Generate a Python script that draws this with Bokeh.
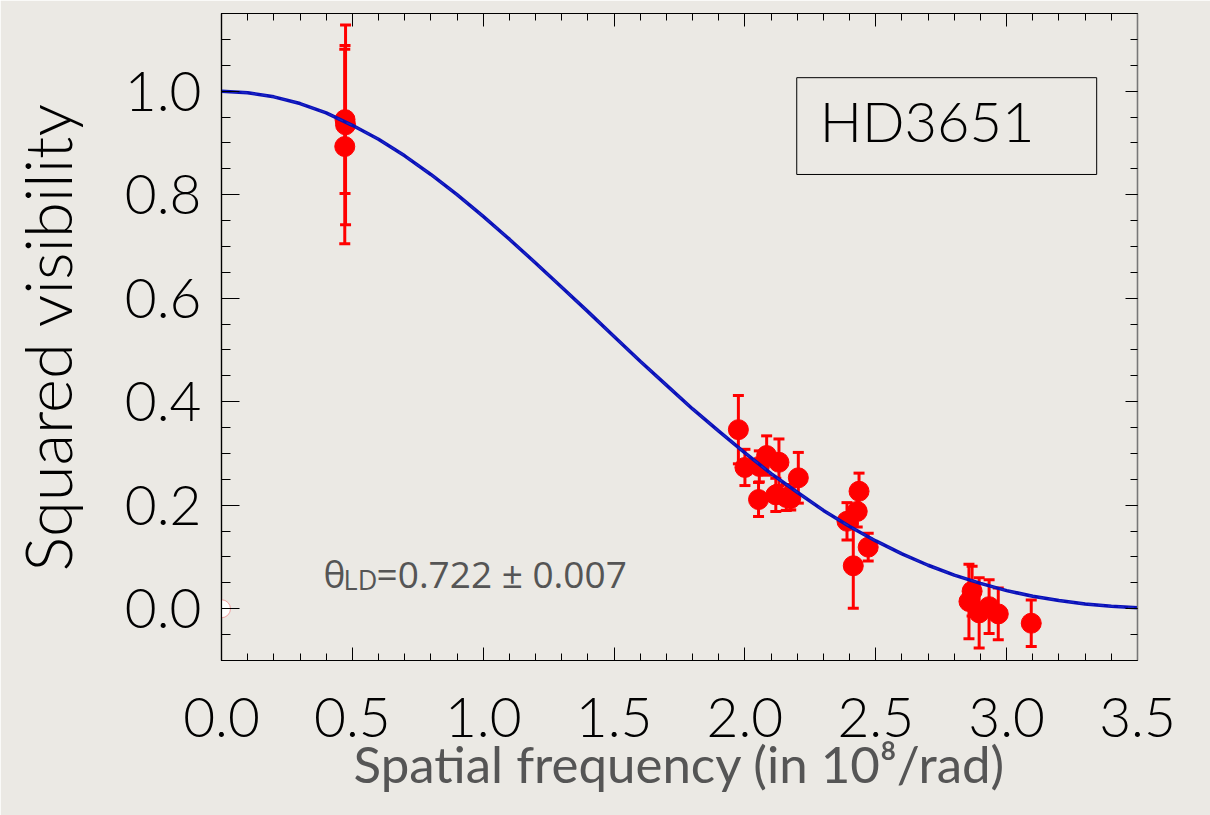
from bokeh.plotting import figure
from bokeh.models import (ColumnDataSource, Whisker, TeeHead, FixedTicker, PrintfTickFormatter,
                          LinearAxis, Label, BoxAnnotation, Range1d, CustomJSTickFormatter)
from bokeh.embed import file_html
from bokeh.resources import INLINE

# ---- data ----
freq = [0.472, 0.474, 0.471, 1.975, 2.000, 2.052, 2.055, 2.083, 2.118, 2.130, 2.158, 2.175,
        2.204, 2.390, 2.414, 2.429, 2.436, 2.471, 2.856, 2.868, 2.895, 2.933, 2.968, 3.094]
vis2 = [0.945, 0.935, 0.893, 0.346, 0.273, 0.211, 0.275, 0.296, 0.220, 0.283, 0.215, 0.213,
        0.253, 0.169, 0.083, 0.188, 0.227, 0.119, 0.014, 0.034, -0.008, 0.004, -0.010, -0.028]
err = [0.143, 0.193, 0.188, 0.066, 0.035, 0.033, 0.030, 0.038, 0.032, 0.045, 0.025, 0.022,
       0.049, 0.036, 0.082, 0.030, 0.035, 0.027, 0.072, 0.048, 0.068, 0.052, 0.050, 0.045]

zero_f = [0.0]
zero_v = [0.0]

curve_f = [0.0, 0.1, 0.2, 0.3, 0.4, 0.5, 0.6, 0.7, 0.8, 0.9, 1.0, 1.1, 1.2, 1.3, 1.4, 1.5, 1.6, 1.7,
           1.8, 1.9, 2.0, 2.1, 2.2, 2.3, 2.4, 2.5, 2.6, 2.7, 2.8, 2.9, 3.0, 3.1, 3.2, 3.3, 3.4, 3.5]
curve_v = [1.000, 0.997, 0.989, 0.976, 0.958, 0.934, 0.907, 0.875, 0.839, 0.800, 0.758, 0.714,
           0.668, 0.621, 0.574, 0.526, 0.478, 0.432, 0.386, 0.343, 0.301, 0.261, 0.225, 0.190,
           0.159, 0.131, 0.106, 0.084, 0.065, 0.049, 0.035, 0.024, 0.016, 0.009, 0.005, 0.002]

x_ticks = [0.0, 0.5, 1.0, 1.5, 2.0, 2.5, 3.0, 3.5]
y_ticks = [0.0, 0.2, 0.4, 0.6, 0.8, 1.0]
x_minor = [i / 10 for i in range(0, 36)]
y_minor = [i / 20 for i in range(-2, 24)]

star_name = "HD3651"
theta_text = "=0.722 ± 0.007"

BG = "#ebe9e4"
TICK_FONT = "Lato Light"

p = figure(width=1210, height=815, output_backend="svg", toolbar_location=None,
           x_range=Range1d(0, 3.5), y_range=Range1d(-0.1, 1.15),
           background_fill_color=BG, border_fill_color=BG,
           min_border_left=221, min_border_right=73, min_border_top=13, min_border_bottom=155,
           x_axis_label="Spatial frequency (in 10⁸/rad)", y_axis_label="Squared visibility")
p.grid.visible = False
p.outline_line_color = "black"
p.outline_line_width = 1.2

src = ColumnDataSource(dict(f=freq, v=vis2,
                            lo=[a - b for a, b in zip(vis2, err)],
                            hi=[a + b for a, b in zip(vis2, err)]))

wh = Whisker(source=src, base="f", lower="lo", upper="hi", dimension="height",
             line_color="red", line_width=3,
             upper_head=TeeHead(size=11, line_color="red", line_width=3),
             lower_head=TeeHead(size=11, line_color="red", line_width=3))
p.add_layout(wh)
p.scatter("f", "v", source=src, size=20, fill_color="red", line_color="red")
p.scatter(zero_f, zero_v, size=18, fill_color="white", line_color="#f0a0a0", line_width=1)

p.line(curve_f, curve_v, line_color="#0a10b8", line_width=3.5)
p.line(curve_f, curve_v, line_color="#1a26c4", line_width=1.5, line_dash="6 4")

# axes styling
def style_axis(ax, ticks, minor, show_labels):
    ax.ticker = FixedTicker(ticks=ticks, minor_ticks=minor)
    ax.axis_line_color = "black"
    ax.axis_line_width = 1.2
    ax.major_tick_line_color = "black"
    ax.minor_tick_line_color = "black"
    ax.major_tick_out = 0
    ax.minor_tick_out = 0
    if show_labels:
        ax.formatter = PrintfTickFormatter(format="%.1f")
        ax.major_label_text_font = TICK_FONT
        ax.major_label_text_font_size = "55px"
        ax.major_label_text_color = "black"
    else:
        ax.formatter = CustomJSTickFormatter(code="return ''")
        ax.major_label_text_font_size = "0px"
        ax.major_label_standoff = 0

xa = p.xaxis[0]
ya = p.yaxis[0]
style_axis(xa, x_ticks, x_minor, True)
style_axis(ya, y_ticks, y_minor, True)
xa.major_tick_in = 13
xa.minor_tick_in = 7
ya.major_tick_in = 18
ya.minor_tick_in = 9
xa.major_label_standoff = 37
ya.major_label_standoff = 20

xa.axis_label_text_font = "Lato"
xa.axis_label_text_font_style = "normal"
xa.axis_label_text_font_size = "51px"
xa.axis_label_text_color = "#555555"
xa.axis_label_standoff = -7

ya.axis_label_text_font = TICK_FONT
ya.axis_label_text_font_style = "normal"
ya.axis_label_text_font_size = "65px"
ya.axis_label_text_color = "black"
ya.axis_label_standoff = 36

top = LinearAxis()
style_axis(top, x_ticks, x_minor, False)
top.major_tick_in = 13
top.minor_tick_in = 7
p.add_layout(top, "above")
right = LinearAxis()
style_axis(right, y_ticks, y_minor, False)
right.major_tick_in = 12
right.minor_tick_in = 7
right.axis_line_color = "#777777"
p.add_layout(right, "right")

# star name box
box = BoxAnnotation(left=2.198, right=3.344, bottom=0.839, top=1.026,
                    fill_color=None, fill_alpha=0, line_color="black", line_alpha=1, line_width=1)
p.add_layout(box)
p.add_layout(Label(x=2.286, y=0.943, text=star_name, text_font=TICK_FONT,
                   text_font_size="56px", text_color="black", text_baseline="alphabetic"))

# theta annotation
p.add_layout(Label(x=0.39, y=0.068, text="θ", text_font="Open Sans",
                   text_font_size="37px", text_color="#555555", text_baseline="alphabetic"))
p.add_layout(Label(x=0.39, y=0.068, x_offset=20, y_offset=-6, text="LD", text_font="Open Sans",
                   text_font_size="27px", text_color="#555555", text_baseline="alphabetic"))
p.add_layout(Label(x=0.39, y=0.068, x_offset=53, text=theta_text, text_font="Open Sans",
                   text_font_size="37px", text_color="#555555", text_baseline="alphabetic"))

open("out.html", "w").write(file_html(p, INLINE))
